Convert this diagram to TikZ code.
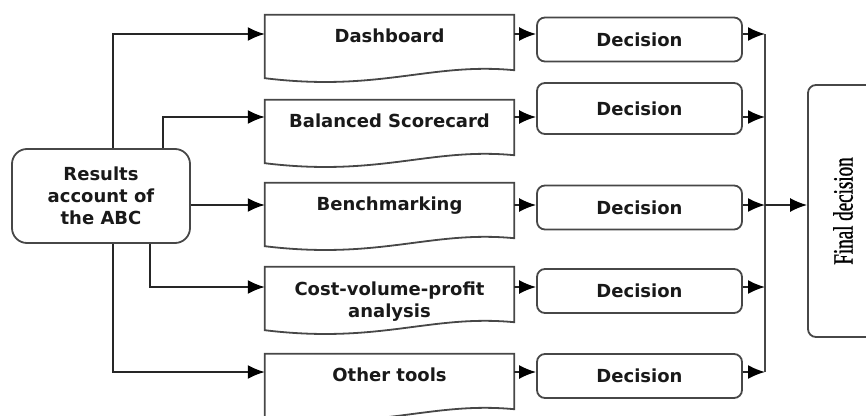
\documentclass[tikz,border=0pt]{standalone}
\usepackage{fontspec}
\setsansfont{DejaVu Sans}
\newfontfamily\finalfont[FakeStretch=0.68,FakeBold=1]{Liberation Serif}
\usetikzlibrary{arrows.meta}
\definecolor{linegray}{HTML}{474747}

\begin{document}
\begin{tikzpicture}[x=1pt, y=-1pt,
  label font/.style={font=\sffamily\bfseries\fontsize{18}{22}\selectfont, text=black!90, align=center},
  srcbox/.style={label font, draw=linegray, line width=1.8pt, rounded corners=15pt, minimum width=178pt, minimum height=94pt},
  docbox/.style={label font, minimum width=249pt, minimum height=63pt},
  decbox/.style={label font, draw=linegray, line width=1.8pt, rounded corners=8pt, minimum width=205pt, minimum height=44pt},
  finalbox/.style={draw=linegray, line width=1.8pt, rounded corners=8pt, minimum width=70pt, minimum height=252pt},
  docline/.style={draw=linegray, line width=1.8pt},
  arrow/.style={-{Latex[length=17pt,width=14pt,color=black]}, draw=black!85, line width=1.8pt}
]
\useasboundingbox (0,0) rectangle (866,415);
\clip (0,0) rectangle (866,415);

% rows the arrows run along
\coordinate (row1) at (0,34);
\coordinate (row2) at (0,117);
\coordinate (row3) at (0,205);
\coordinate (row4) at (0,287);
\coordinate (row5) at (0,372);
\coordinate (bus) at (765,0);

\node[srcbox] (res) at (101,196) {Results\\account of\\the ABC};

\node[docbox] (dash) at (389.5,49.5) {Dashboard\\\strut};
\node[docbox] (bal) at (389.5,134.5) {Balanced Scorecard\\\strut};
\node[docbox] (bench) at (389.5,217.5) {Benchmarking\\\strut};
\node[docbox] (cvp) at (389.5,301.5) {Cost-volume-profit\\analysis};
\node[docbox] (other) at (389.5,388.5) {Other tools\\\strut};

% document outline with wavy bottom
\foreach \n in {dash,bal,bench,cvp,other}
  \draw[docline] ([yshift=3pt]\n.north west) -- ([yshift=3pt]\n.north east) -- ([yshift=11pt]\n.south east)
    .. controls ([xshift=-84pt,yshift=19pt]\n.south east) and ([xshift=115pt,yshift=-11pt]\n.south west) .. ([yshift=3pt]\n.south west) -- cycle;

\node[decbox] (dec1) at (639.5,39.5) {Decision};
\node[decbox, minimum height=51pt] (dec2) at (639.5,108.5) {Decision};
\node[decbox] (dec3) at (639.5,207.5) {Decision};
\node[decbox] (dec4) at (639.5,291) {Decision};
\node[decbox] (dec5) at (639.5,376) {Decision};

\node[finalbox] (final) at (843,211) {\rotatebox{90}{\finalfont\fontsize{28}{28}\selectfont Final decision}};

% from the ABC results to each tool
\draw[arrow] ([xshift=12pt]res.north) |- (dash.west |- row1);
\draw[arrow] ([xshift=62pt]res.north) |- (bal.west |- row2);
\draw[arrow] (res.east |- row3) -- (bench.west |- row3);
\draw[arrow] ([xshift=49pt]res.south) |- (cvp.west |- row4);
\draw[arrow] ([xshift=12pt]res.south) |- (other.west |- row5);

% tools to decisions
\draw[arrow] (dash.east |- row1) -- (dec1.west |- row1);
\draw[arrow] (bal.east |- row2) -- (dec2.west |- row2);
\draw[arrow] (bench.east |- row3) -- (dec3.west |- row3);
\draw[arrow] (cvp.east |- row4) -- (dec4.west |- row4);
\draw[arrow] (other.east |- row5) -- (dec5.west |- row5);

% decisions into the collecting line
\draw[arrow] (dec1.east |- row1) -- (bus |- row1);
\draw[arrow] (dec2.east |- row2) -- (bus |- row2);
\draw[arrow] (dec3.east |- row3) -- (bus |- row3);
\draw[arrow] (dec4.east |- row4) -- (bus |- row4);
\draw[arrow] (dec5.east |- row5) -- (bus |- row5);
\draw[docline] (bus |- row1) -- (bus |- row5);
\draw[arrow] (bus |- row3) -- (final.west |- row3);
\end{tikzpicture}
\end{document}
